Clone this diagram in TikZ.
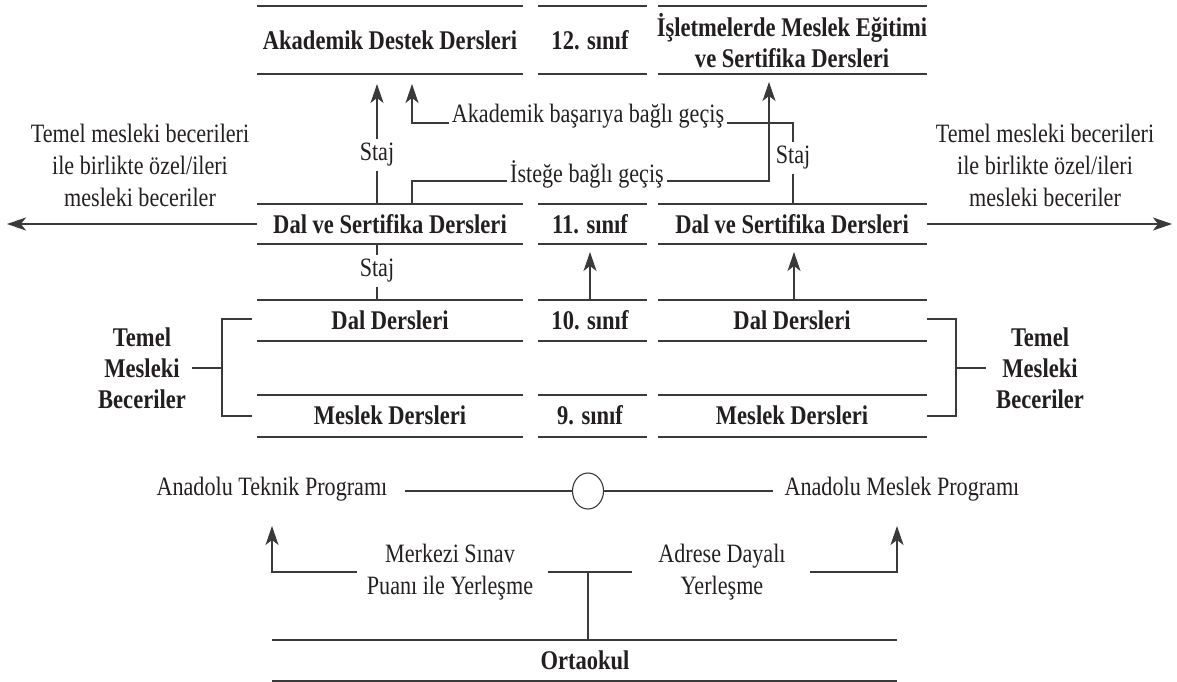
\documentclass[tikz,border=0pt]{standalone}
\usepackage{fontspec}
\setmainfont{Liberation Serif}[FakeStretch=0.835]
\usetikzlibrary{arrows.meta,shapes.geometric}
\definecolor{ink}{HTML}{231F20}
\definecolor{rulec}{HTML}{3A3A3A}
\tikzset{
  bigtip/.tip={Stealth[length=19pt,width=13pt,inset=5pt]},
}
\begin{document}
\begin{tikzpicture}[x=1pt,y=-1pt,
  every node/.style={text=ink,font=\fontsize{26.5}{32}\selectfont,inner sep=2pt},
  bf/.style={font=\fontsize{27}{31}\selectfont\bfseries},
  rule/.style={draw=rulec,line width=1.3pt},
  conn/.style={draw=rulec,line width=1.1pt},
  arr/.style={conn,arrows={-bigtip}},
  lbl/.style={inner sep=4pt}]
\useasboundingbox (0,0) rectangle (1177,682);
% row rules
\foreach \y in {6,74,204,244,300,341,395,437}{
  \draw[rule] (257,\y) -- (523,\y);
  \draw[rule] (538,\y) -- (647,\y);
  \draw[rule] (658,\y) -- (927,\y);
}
\draw[rule] (272,640) -- (897,640);
\draw[rule] (272,681) -- (897,681);
% row texts
\node[bf] (akd) at (390,40) {Akademik Destek Dersleri};
\node[bf] (s12) at (590,40) {12. sınıf};
\node[bf,align=center] (ism) at (792,41) {İşletmelerde Meslek Eğitimi\\ve Sertifika Dersleri};
\node[bf] (dvsL) at (390,224) {Dal ve Sertifika Dersleri};
\node[bf] (s11) at (590,224) {11. sınıf};
\node[bf] (dvsR) at (792,224) {Dal ve Sertifika Dersleri};
\node[bf] (dalL) at (390,320) {Dal Dersleri};
\node[bf] (s10) at (590,320) {10. sınıf};
\node[bf] (dalR) at (792,320) {Dal Dersleri};
\node[bf] (mesL) at (390,415) {Meslek Dersleri};
\node[bf] (s9) at (590,415) {9. sınıf};
\node[bf] (mesR) at (792,415) {Meslek Dersleri};
\node[bf] (ort) at (585,660) {Ortaokul};
% side texts
\node[align=center] (sideL) at (140,165) {Temel mesleki becerileri\\ile birlikte özel/ileri\\mesleki beceriler};
\node[align=center] (sideR) at (1045,165) {Temel mesleki becerileri\\ile birlikte özel/ileri\\mesleki beceriler};
\node[bf,align=center] (tmbL) at (142,368) {Temel\\Mesleki\\Beceriler};
\node[bf,align=center] (tmbR) at (1040,368) {Temel\\Mesleki\\Beceriler};
% horizontal side arrows
\coordinate (hl0) at (257,224); \coordinate (hl1) at (7,224);
\coordinate (hr0) at (927,224); \coordinate (hr1) at (1172,224);
\draw[arr] (hl0) -- (hl1);
\draw[arr] (hr0) -- (hr1);
% brackets
\coordinate (bl1) at (252,319); \coordinate (bl2) at (252,416); \coordinate (blm) at (222,368); \coordinate (blt) at (192,368);
\draw[conn] (bl1) -- (222,319) -- (222,416) -- (bl2);
\draw[conn] (blm) -- (blt);
\coordinate (br1) at (927,319); \coordinate (br2) at (927,416); \coordinate (brm) at (956,368); \coordinate (brt) at (986,368);
\draw[conn] (br1) -- (956,319) -- (956,416) -- (br2);
\draw[conn] (brm) -- (brt);
% staj labels
\node[lbl] (staj1) at (377,155) {Staj};
\node[lbl] (staj2) at (793,158) {Staj};
\node[lbl] (staj3) at (377,271) {Staj};
\node[lbl,inner sep=3pt] (abg) at (588,116) {Akademik başarıya bağlı geçiş};
\node[lbl,inner sep=3pt] (ibg) at (587,174) {İsteğe bağlı geçiş};
% staj connectors
\coordinate (a1b) at (377,204); \coordinate (a1t) at (377,84);
\draw[conn] (a1b) -- (staj1);
\draw[arr] (staj1) -- (a1t);
\coordinate (s3t) at (377,244); \coordinate (s3b) at (377,300);
\draw[conn] (s3t) -- (staj3) -- (s3b);
% akademik basariya
\coordinate (a2t) at (412,84); \coordinate (a2c) at (412,123);
\coordinate (r2c) at (793,123); \coordinate (r2b) at (793,204);
\draw[arr] (abg.west |- a2c) -- (a2c) -- (a2t);
\draw[conn] (abg.east |- r2c) -- (r2c) -- (staj2);
\draw[conn] (staj2) -- (r2b);
% istege bagli
\coordinate (i1b) at (412,204); \coordinate (i1c) at (412,181);
\coordinate (i2c) at (769,181); \coordinate (i2t) at (769,82);
\draw[conn] (i1b) -- (i1c) -- (ibg.west |- i1c);
\draw[arr] (ibg.east |- i2c) -- (i2c) -- (i2t);
% up arrows between 10 and 11
\coordinate (m1b) at (590,300); \coordinate (m1t) at (590,252);
\coordinate (m2b) at (794,300); \coordinate (m2t) at (794,252);
\draw[arr] (m1b) -- (m1t);
\draw[arr] (m2b) -- (m2t);
% bottom
\node (atp) at (272,489) {Anadolu Teknik Programı};
\node (amp) at (902,489) {Anadolu Meslek Programı};
\node[draw=rulec,line width=1.1pt,ellipse,minimum width=31pt,minimum height=36pt,inner sep=0pt] (o) at (588,491) {};
\coordinate (l1) at (405,491); \coordinate (l2) at (773,491);
\draw[conn] (l1) -- (o.west);
\draw[conn] (o.east) -- (l2);
\node[align=center] (mer) at (450,572) {Merkezi Sınav\\Puanı ile Yerleşme};
\node[align=center] (adr) at (722,572) {Adrese Dayalı\\Yerleşme};
\coordinate (b1) at (357,572); \coordinate (b1c) at (272,572); \coordinate (b1t) at (272,526);
\draw[arr] (b1) -- (b1c) -- (b1t);
\coordinate (b2) at (548,572); \coordinate (b3) at (632,572); \coordinate (bm) at (588,572); \coordinate (bmb) at (588,640);
\draw[conn] (b2) -- (b3);
\draw[conn] (bm) -- (bmb);
\coordinate (b4) at (810,572); \coordinate (b4c) at (897,572); \coordinate (b4t) at (897,526);
\draw[arr] (b4) -- (b4c) -- (b4t);
\end{tikzpicture}
\end{document}
